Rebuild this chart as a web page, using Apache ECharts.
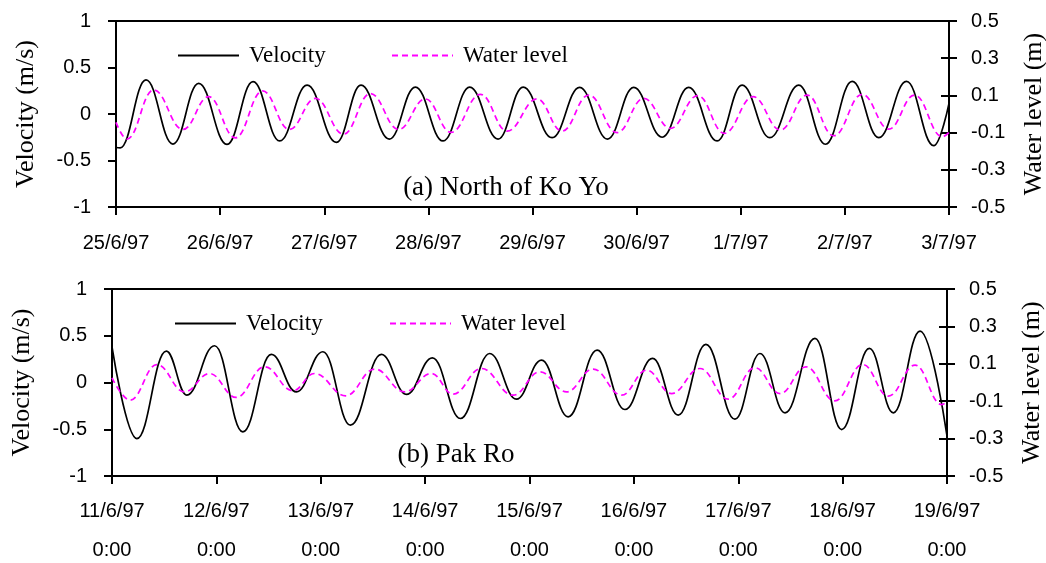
<!DOCTYPE html>
<html>
<head>
<meta charset="utf-8">
<script src="https://cdn.jsdelivr.net/npm/echarts@6/dist/echarts.min.js"></script>
<style>
html,body{margin:0;padding:0;background:#fff;}
#chart{width:1046px;height:563px;}
</style>
</head>
<body>
<div id="chart"></div>
<script>
// ---- Tick labels ----
var topDates = ['25/6/97','26/6/97','27/6/97','28/6/97','29/6/97','30/6/97','1/7/97','2/7/97','3/7/97'];
var bottomDates = ['11/6/97','12/6/97','13/6/97','14/6/97','15/6/97','16/6/97','17/6/97','18/6/97','19/6/97'];
var bottomTimes = ['0:00','0:00','0:00','0:00','0:00','0:00','0:00','0:00','0:00'];

// ---- (a) North of Ko Yo : time in days from start, velocity (m/s) ----
var topVelT = [0,0.04,0.288,0.547,0.794,1.066,1.316,1.572,1.835,2.116,2.353,2.625,2.875,3.141,3.397,3.669,3.91,4.188,4.453,4.72,4.972,5.245,5.5,5.773,6.013,6.279,6.557,6.814,7.07,7.326,7.592,7.854,8.0];
var topVel  = [-0.36,-0.365,0.366,-0.323,0.33,-0.327,0.348,-0.29,0.31,-0.305,0.31,-0.27,0.29,-0.29,0.29,-0.27,0.29,-0.255,0.287,-0.27,0.287,-0.25,0.287,-0.29,0.31,-0.255,0.31,-0.325,0.35,-0.255,0.35,-0.34,0.115];
// water level (m)
var topWlT = [0,0.106,0.361,0.643,0.89,1.146,1.408,1.665,1.915,2.186,2.443,2.715,2.971,3.218,3.5,3.756,4.044,4.284,4.54,4.813,5.068,5.325,5.587,5.843,6.119,6.381,6.638,6.893,7.166,7.422,7.669,7.935,8.0];
var topWl  = [-0.045,-0.135,0.129,-0.083,0.093,-0.128,0.124,-0.083,0.084,-0.108,0.11,-0.083,0.081,-0.099,0.106,-0.092,0.081,-0.092,0.102,-0.1,0.084,-0.077,0.099,-0.104,0.093,-0.086,0.102,-0.117,0.106,-0.081,0.102,-0.122,-0.099];

// ---- (b) Pak Ro ----
var botVelT = [0,0.238,0.52,0.717,0.983,1.254,1.526,1.766,2.021,2.284,2.581,2.821,3.07,3.338,3.619,3.875,4.115,4.37,4.648,4.914,5.179,5.425,5.69,5.968,6.208,6.448,6.735,6.991,7.256,7.486,7.742,8.0];
var botVel  = [0.38,-0.6,0.336,-0.135,0.393,-0.528,0.3,-0.1,0.329,-0.456,0.3,-0.128,0.264,-0.385,0.31,-0.178,0.24,-0.367,0.347,-0.289,0.257,-0.349,0.407,-0.392,0.31,-0.324,0.471,-0.503,0.364,-0.324,0.55,-0.57];
var botWlT = [0,0.174,0.43,0.695,0.935,1.19,1.462,1.733,1.94,2.239,2.517,2.803,3.06,3.268,3.54,3.843,4.099,4.355,4.61,4.882,5.122,5.361,5.633,5.904,6.16,6.4,6.649,6.925,7.193,7.438,7.694,7.95,8.0];
var botWl  = [0.025,-0.094,0.096,-0.05,0.048,-0.08,0.084,-0.044,0.048,-0.071,0.072,-0.05,0.048,-0.062,0.075,-0.068,0.057,-0.05,0.072,-0.068,0.066,-0.059,0.075,-0.089,0.079,-0.059,0.084,-0.098,0.096,-0.073,0.093,-0.118,-0.103];

function pairs(t, v){ return t.map(function(x,i){ return [x, v[i]]; }); }

var tickFont = 'Liberation Sans';
var serif = 'Liberation Serif, Times New Roman, serif';
var BLACK = '#000';

function xAxis(gridIndex, labels, bottom){
  return {
    type:'value', gridIndex:gridIndex, min:0, max:8, interval:1,
    axisLine:{show:true, onZero:false, lineStyle:{color:BLACK,width:2}},
    axisTick:{show:true, inside:false, length:8, lineStyle:{color:BLACK,width:2}},
    splitLine:{show:false},
    axisLabel:{
      color:BLACK, fontFamily:tickFont, fontSize:20,
      margin: bottom ? 16 : 26,
      lineHeight: bottom ? 39 : 20,
      formatter:function(v){ var i=Math.round(v); return bottom ? labels[i]+'\n'+bottomTimes[i] : labels[i]; }
    }
  };
}
function yLeft(gridIndex){
  return {
    type:'value', gridIndex:gridIndex, position:'left', min:-1, max:1, interval:0.5,
    name:'Velocity (m/s)', nameLocation:'middle', nameRotate:90, nameGap:77,
    nameTextStyle:{fontFamily:serif, fontSize:26, color:BLACK},
    axisLine:{show:true, lineStyle:{color:BLACK,width:2}},
    axisTick:{show:true, inside:false, length:8, lineStyle:{color:BLACK,width:2}},
    splitLine:{show:false},
    axisLabel:{color:BLACK, fontFamily:tickFont, fontSize:20, margin:25}
  };
}
function yRight(gridIndex){
  return {
    type:'value', gridIndex:gridIndex, position:'right', min:-0.5, max:0.5, interval:0.2,
    name:'Water level (m)', nameLocation:'middle', nameRotate:90, nameGap:72,
    nameTextStyle:{fontFamily:serif, fontSize:26, color:BLACK},
    axisLine:{show:true, lineStyle:{color:BLACK,width:2}},
    axisTick:{show:true, inside:false, length:8, lineStyle:{color:BLACK,width:2}},
    splitLine:{show:false},
    axisLabel:{color:BLACK, fontFamily:tickFont, fontSize:20, margin:22,
      formatter:function(v){ return (Math.round(v*10)/10).toString(); }}
  };
}
function yRightInner(gridIndex){
  return {
    type:'value', gridIndex:gridIndex, position:'right', min:-0.5, max:0.5, interval:0.2,
    axisLine:{show:false},
    axisTick:{show:true, inside:true, length:8, lineStyle:{color:BLACK,width:2}},
    splitLine:{show:false}, axisLabel:{show:false}
  };
}
function legendItem(name, left, top){
  return {
    data:[name], left:left, top:top, padding:0, orient:'horizontal',
    itemWidth:61, itemHeight:14, selectedMode:false,
    itemStyle:{opacity:0},
    textStyle:{fontFamily:serif, fontSize:23, color:BLACK, padding:[0,0,0,5]}
  };
}

var chart = echarts.init(document.getElementById('chart'), null, {renderer:'canvas'});
chart.setOption({
  animation:false,
  backgroundColor:'#fff',
  grid:[
    {left:116, top:21, width:833, height:186, show:true, borderColor:BLACK, borderWidth:2, backgroundColor:'transparent', containLabel:false, outerBoundsMode:'none'},
    {left:112, top:289, width:835, height:187, show:true, borderColor:BLACK, borderWidth:2, backgroundColor:'transparent', containLabel:false, outerBoundsMode:'none'}
  ],
  xAxis:[ xAxis(0, topDates, false), xAxis(1, bottomDates, true) ],
  yAxis:[ yLeft(0), yRight(0), yRightInner(0), yLeft(1), yRight(1), yRightInner(1) ],
  legend:[
    legendItem('Velocity', 177, 44),
    legendItem('Water level', 391, 44),
    legendItem('Velocity', 174, 312),
    legendItem('Water level', 389, 312)
  ],
  graphic:[
    {type:'text', x:506, y:188, style:{text:'(a) North of Ko Yo', font:'27px '+serif, fill:BLACK, textAlign:'center', textVerticalAlign:'middle'}},
    {type:'text', x:456, y:455, style:{text:'(b) Pak Ro', font:'27px '+serif, fill:BLACK, textAlign:'center', textVerticalAlign:'middle'}}
  ],
  series:[
    {name:'Velocity', type:'line', xAxisIndex:0, yAxisIndex:0, data:pairs(topVelT, topVel),
      showSymbol:false, symbol:'none', smooth:0.42, smoothMonotone:'x', color:BLACK,
      lineStyle:{color:BLACK, width:1.7}},
    {name:'Water level', type:'line', xAxisIndex:0, yAxisIndex:1, data:pairs(topWlT, topWl),
      showSymbol:false, symbol:'none', smooth:0.42, smoothMonotone:'x', color:'#ff00ff',
      lineStyle:{color:'#ff00ff', width:1.7, type:[6,4]}},
    {name:'Velocity', type:'line', xAxisIndex:1, yAxisIndex:3, data:pairs(botVelT, botVel),
      showSymbol:false, symbol:'none', smooth:0.42, smoothMonotone:'x', color:BLACK,
      lineStyle:{color:BLACK, width:1.7}},
    {name:'Water level', type:'line', xAxisIndex:1, yAxisIndex:4, data:pairs(botWlT, botWl),
      showSymbol:false, symbol:'none', smooth:0.42, smoothMonotone:'x', color:'#ff00ff',
      lineStyle:{color:'#ff00ff', width:1.7, type:[6,4]}}
  ]
});
</script>
</body>
</html>
